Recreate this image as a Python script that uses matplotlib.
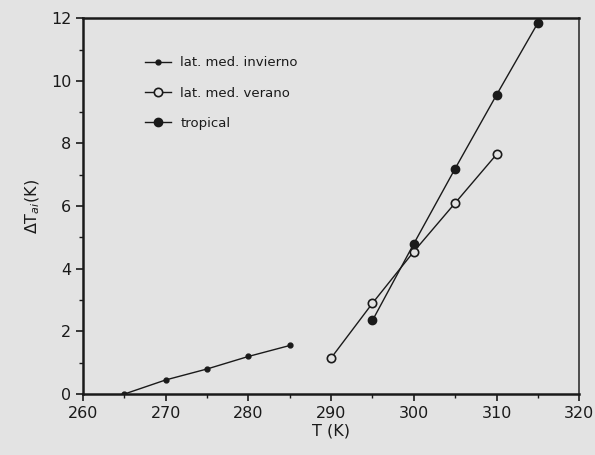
import matplotlib
matplotlib.use('Agg')
import matplotlib.pyplot as plt
from matplotlib.ticker import MultipleLocator

# series: temperature (K) vs. Delta T_ai (K)
t_winter = [265, 270, 275, 280, 285]
dt_winter = [0.0, 0.45, 0.8, 1.2, 1.55]

t_summer = [290, 295, 300, 305, 310]
dt_summer = [1.15, 2.9, 4.55, 6.1, 7.65]

t_tropical = [295, 300, 305, 310, 315]
dt_tropical = [2.35, 4.8, 7.2, 9.55, 11.85]

labels = ['lat. med. invierno', 'lat. med. verano', 'tropical']

bg = '#e3e3e3'
ink = '#1a1a1a'

fig = plt.figure(figsize=(5.95, 4.55), dpi=100, facecolor=bg)
ax = fig.add_axes([0.1395, 0.134, 0.834, 0.826], facecolor=bg)

ax.plot(t_winter, dt_winter, '-o', color=ink, lw=1.0, ms=3.5, label=labels[0])
ax.plot(t_summer, dt_summer, '-o', color=ink, lw=1.0, ms=6.0,
        mfc=bg, mec=ink, mew=1.2, label=labels[1])
ax.plot(t_tropical, dt_tropical, '-o', color=ink, lw=1.0, ms=6.0, label=labels[2])

ax.set_xlim(260, 320)
ax.set_ylim(0, 12)
ax.xaxis.set_major_locator(MultipleLocator(10))
ax.xaxis.set_minor_locator(MultipleLocator(5))
ax.yaxis.set_major_locator(MultipleLocator(2))
ax.yaxis.set_minor_locator(MultipleLocator(1))
ax.tick_params(which='major', direction='out', length=5, width=1.2, colors=ink,
               labelsize=11.5)
ax.tick_params(which='minor', direction='out', length=3, width=1.0, colors=ink)

for side in ['left', 'bottom', 'top']:
    ax.spines[side].set_linewidth(1.8)
    ax.spines[side].set_color(ink)
ax.spines['right'].set_linewidth(1.2)
ax.spines['right'].set_color('#333333')

ax.set_xlabel('T (K)', fontsize=11.5, color=ink, labelpad=2)
ax.set_ylabel(r'$\Delta$T$_{ai}$(K)', fontsize=11.5, color=ink, labelpad=6)

leg = ax.legend(loc='upper left', bbox_to_anchor=(0.1, 0.93), frameon=False,
                fontsize=9.5, handlelength=2.0, labelspacing=1.3, handletextpad=0.7)
for txt in leg.get_texts():
    txt.set_color(ink)

fig.savefig('out.png', dpi=100, facecolor=bg)
